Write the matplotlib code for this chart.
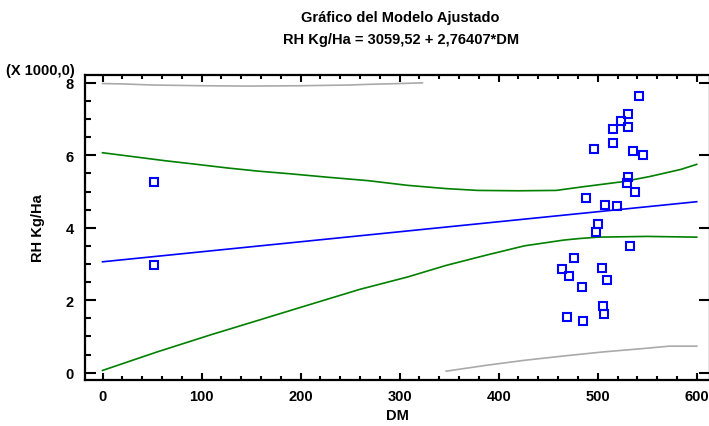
import matplotlib
matplotlib.use("Agg")
import matplotlib.pyplot as plt
from matplotlib.ticker import MultipleLocator, FixedLocator
import numpy as np

plt.rcParams['font.family'] = ['Liberation Sans', 'DejaVu Sans']

# ---------------- data (RH Kg/Ha in thousands) ----------------
intercept = 3059.52
slope = 2.76407

obs_dm = [52.3, 52.3, 542.1, 530.9, 523.3, 515.8, 530.9, 515.8, 536.0, 545.5,
          496.6, 530.6, 529.6, 487.9, 507.4, 519.2, 500.7, 498.3, 532.7, 476.1,
          463.7, 470.8, 504.1, 509.7, 483.9, 505.7, 506.4, 468.7, 485.5, 537.7]
obs_rh = [5.25, 2.96, 7.64, 7.15, 6.94, 6.72, 6.77, 6.33, 6.12, 6.00,
          6.17, 5.40, 5.23, 4.83, 4.64, 4.60, 4.11, 3.87, 3.50, 3.17,
          2.85, 2.68, 2.89, 2.57, 2.35, 1.83, 1.63, 1.54, 1.42, 4.99]

conf_up_dm = [0, 31.6, 63, 95, 126, 158, 189, 229, 268, 308, 347, 379, 420, 458, 485, 525, 552, 584, 600]
conf_up_rh = [6.07, 5.96, 5.85, 5.75, 5.65, 5.56, 5.49, 5.39, 5.30, 5.17, 5.08, 5.03, 5.02, 5.03, 5.13, 5.27, 5.41, 5.61, 5.75]

conf_lo_dm = [0, 55, 110, 158, 201, 260, 308, 347, 387, 426, 466, 481, 500, 550, 600]
conf_lo_rh = [0.06, 0.57, 1.05, 1.45, 1.81, 2.30, 2.64, 2.96, 3.24, 3.50, 3.66, 3.70, 3.74, 3.76, 3.74]

pred_up_dm = [0, 20, 50, 100, 150, 200, 250, 270, 300, 323]
pred_up_rh = [7.98, 7.97, 7.94, 7.92, 7.91, 7.92, 7.94, 7.96, 7.98, 8.00]

pred_lo_dm = [347, 387, 426, 466, 505, 544, 572, 600]
pred_lo_rh = [0.04, 0.20, 0.34, 0.46, 0.57, 0.66, 0.73, 0.73]

fit_dm = np.array([0, 600])
fit_rh = (intercept + slope * fit_dm) / 1000.0

xticks = [0, 100, 200, 300, 400, 500, 600]
yticks = [0, 2, 4, 6, 8]

# ---------------- figure ----------------
W, H = 709, 427
fig = plt.figure(figsize=(W / 100, H / 100), dpi=100)
ax = fig.add_axes([85 / W, (H - 380.5) / H, 625 / W, 305 / H])

gray = '#AAAAAA'
green = '#008000'
blue = '#0000FF'
lw = 1.2

ax.plot(pred_up_dm, pred_up_rh, color=gray, lw=lw)
ax.plot(pred_lo_dm, pred_lo_rh, color=gray, lw=lw)
ax.plot(conf_up_dm, conf_up_rh, color=green, lw=lw)
ax.plot(conf_lo_dm, conf_lo_rh, color=green, lw=lw)
ax.plot(fit_dm, fit_rh, color=blue, lw=lw)
ax.plot(obs_dm, obs_rh, linestyle='none', marker='s', markersize=6.2,
        markerfacecolor='none', markeredgecolor=blue, markeredgewidth=1.5)

ax.set_xlim(-17.7, 613.4)
ax.set_ylim(-0.19, 8.23)

ax.xaxis.set_major_locator(FixedLocator(xticks))
ax.xaxis.set_minor_locator(MultipleLocator(20))
ax.yaxis.set_major_locator(FixedLocator(yticks))
ax.yaxis.set_minor_locator(MultipleLocator(0.5))

for s in ax.spines.values():
    s.set_linewidth(1.6)
    s.set_color('black')

ax.tick_params(axis='both', which='both', direction='in', top=True, right=True,
               width=1.5, color='black')
ax.tick_params(axis='y', which='major', length=8, pad=8)
ax.tick_params(axis='y', which='minor', length=4.5, right=False)
ax.tick_params(axis='x', which='major', length=5, pad=6.5)
ax.tick_params(axis='x', which='minor', length=3)

for lab in ax.get_xticklabels() + ax.get_yticklabels():
    lab.set_fontweight('bold')
    lab.set_fontsize(10.5)

ax.set_xlabel('DM', fontsize=10.5, fontweight='bold', labelpad=4)
ax.set_ylabel('RH Kg/Ha', fontsize=10.5, fontweight='bold', labelpad=15)

fig.text(400 / W, 1 - 18 / H, 'Gráfico del Modelo Ajustado', ha='center', va='center',
         fontsize=10.5, fontweight='bold')
fig.text(401 / W, 1 - 40 / H, 'RH Kg/Ha = 3059,52 + 2,76407*DM', ha='center', va='center',
         fontsize=10.5, fontweight='bold')
fig.text(75 / W, 1 - 71 / H, '(X 1000,0)', ha='right', va='center',
         fontsize=10.5, fontweight='bold')

fig.savefig('out.png', dpi=100)
